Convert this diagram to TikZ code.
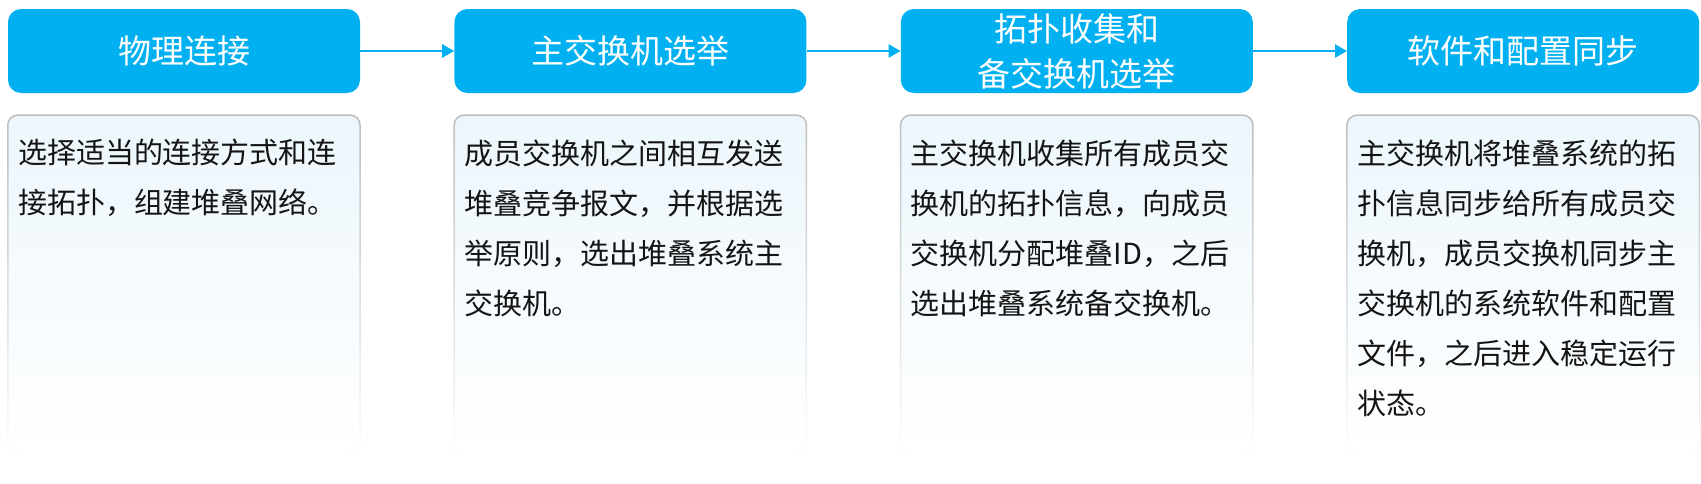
\documentclass[tikz,border=0pt]{standalone}
\usepackage{fontspec}
\setmainfont{Noto Sans CJK SC}
\usetikzlibrary{positioning}
\usetikzlibrary{arrows.meta}
\usetikzlibrary{fadings}
\usetikzlibrary{backgrounds}

\definecolor{hdrblue}{RGB}{0,176,240}
\definecolor{descblue}{RGB}{236,246,252}
\definecolor{descline}{RGB}{190,190,190}
\definecolor{desctext}{RGB}{20,20,20}

\tikzfading[name=descfade, top color=transparent!0, middle color=transparent!15, bottom color=transparent!100]

\newcommand{\desctext}[1]{\parbox[t][292pt][t]{332pt}{\raggedright #1}}

\begin{document}
\begin{tikzpicture}[
    x=1pt, y=1pt,
    hdr/.style={fill=hdrblue, rounded corners=13pt, minimum width=352pt, minimum height=84pt,
        text=white, align=center, inner sep=0pt, font=\fontsize{33pt}{45pt}\selectfont},
    desc/.style={minimum width=352pt, inner xsep=10pt, inner ysep=24pt, text=desctext,
        font=\fontsize{29pt}{50pt}\selectfont},
    flow/.style={-{Triangle[length=12pt,width=13pt]}, line width=2.5pt, hdrblue},
    node distance=94pt
]
    \useasboundingbox (0,0) rectangle (1701,-483);

    % Draw headers
    \node [hdr] (h1) at (184,-51) {物理连接};
    \node [hdr, right=of h1] (h2) {主交换机选举};
    \node [hdr, right=of h2] (h3) {拓扑收集和\\备交换机选举};
    \node [hdr, right=of h3] (h4) {软件和配置同步};

    % Draw arrows
    \draw [flow] (h1) -- (h2);
    \draw [flow] (h2) -- (h3);
    \draw [flow] (h3) -- (h4);

    % Draw descriptions
    \node [desc, below=22pt of h1] (d1) {\desctext{选择适当的连接方式和连\\接拓扑，组建堆叠网络。}};
    \node [desc, below=22pt of h2] (d2) {\desctext{成员交换机之间相互发送\\堆叠竞争报文，并根据选\\举原则，选出堆叠系统主\\交换机。}};
    \node [desc, below=22pt of h3] (d3) {\desctext{主交换机收集所有成员交\\换机的拓扑信息，向成员\\交换机分配堆叠ID，之后\\选出堆叠系统备交换机。}};
    \node [desc, below=22pt of h4] (d4) {\desctext{主交换机将堆叠系统的拓\\扑信息同步给所有成员交\\换机，成员交换机同步主\\交换机的系统软件和配置\\文件，之后进入稳定运行\\状态。}};

    % Draw frames behind descriptions
    \begin{scope}[on background layer]
        \foreach \d in {d1,d2,d3,d4} {
            \shade [top color=descblue, middle color=white, bottom color=white, rounded corners=10pt] (\d.south west) rectangle (\d.north east);
            \draw [descline, line width=1.5pt, rounded corners=10pt, path fading=descfade] (\d.south west) rectangle (\d.north east);
        }
    \end{scope}

\end{tikzpicture}
\end{document}
